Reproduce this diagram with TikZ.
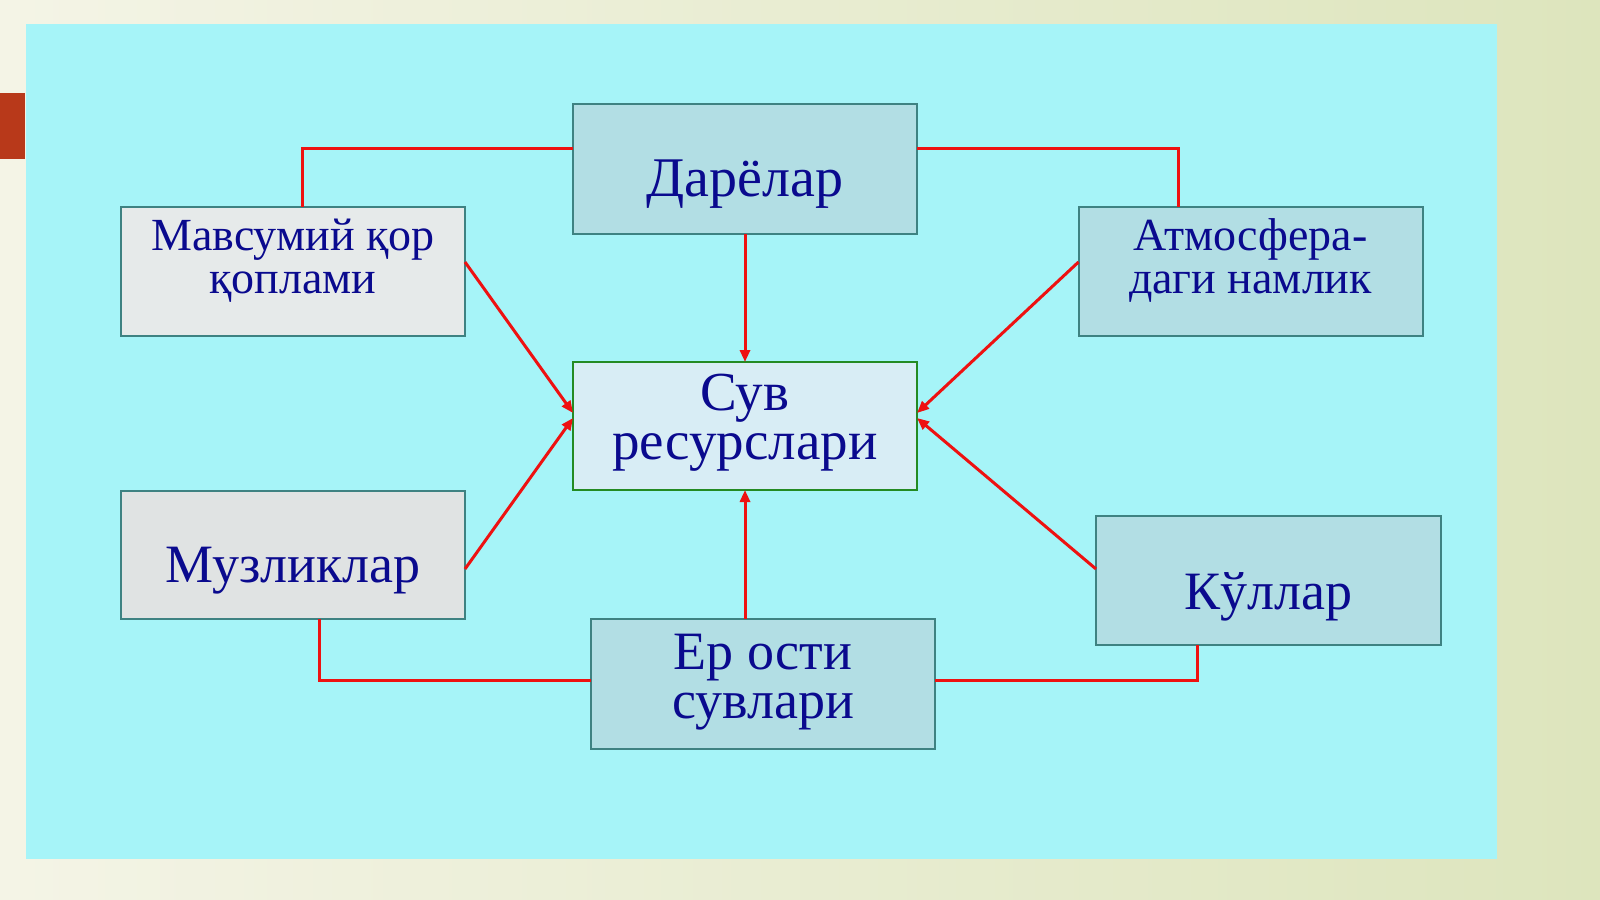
\documentclass[tikz,border=0pt]{standalone}
\usepackage{fontspec}
\setmainfont{Liberation Serif}
\usetikzlibrary{arrows.meta}
\definecolor{bgcyan}{HTML}{A6F4F8}
\definecolor{creamL}{HTML}{F4F4E6}
\definecolor{creamR}{HTML}{DDE5BD}
\definecolor{redblock}{HTML}{B8391A}
\definecolor{boxline}{HTML}{3E8282}
\definecolor{suvline}{HTML}{238B23}
\definecolor{waterfill}{HTML}{B2DEE4}
\definecolor{snowfill}{HTML}{E6EAEA}
\definecolor{icefill}{HTML}{E0E3E3}
\definecolor{suvfill}{HTML}{D8EDF5}
\definecolor{navy}{HTML}{0A0A8E}
\definecolor{linkred}{HTML}{EE1111}
\tikzset{
  box/.style={draw=boxline, line width=2pt, inner sep=0pt, outer sep=0pt,
    minimum width=344pt, minimum height=129pt},
  txt/.style={text=navy, align=center, inner sep=0pt, anchor=base},
  link/.style={draw=linkred, line width=3pt},
  arr/.style={draw=linkred, line width=3pt, -{Triangle[length=12pt,width=10pt]}},
}
\begin{document}
\begin{tikzpicture}[x=1pt,y=-1pt]
\useasboundingbox (0,0) rectangle (1600,899);
\shade[left color=creamL, right color=creamR] (0,0) rectangle (1600,899);
\fill[redblock] (0,93) rectangle (25,159);
\fill[bgcyan] (26,24) rectangle (1497,859);

\node[box, fill=waterfill, minimum height=130pt] (dar) at (745,169) {};
\node[txt, font=\fontsize{56}{50}\selectfont] at (745,196) {Дарёлар};

\node[box, fill=snowfill] (mav) at (293,271) {};
\node[txt, font=\fontsize{46}{43}\selectfont] at (293,293) {Мавсумий қор\\қоплами};

\node[box, fill=waterfill] (atm) at (1250.5,271) {};
\node[txt, font=\fontsize{46}{43}\selectfont] at (1250.5,293) {Атмосфера-\\даги намлик};

\node[box, draw=suvline, fill=suvfill, minimum height=128pt] (suv) at (745,426) {};
\node[txt, font=\fontsize{55}{49}\selectfont] at (745,459) {Сув\\ресурслари};

\node[box, fill=icefill, minimum height=128pt] (muz) at (293,555) {};
\node[txt, font=\fontsize{54}{49}\selectfont] at (293,582) {Музликлар};

\node[box, fill=waterfill, minimum width=345pt] (kul) at (1268.5,580.5) {};
\node[txt, font=\fontsize{54}{49}\selectfont] at (1268.5,609) {Кўллар};

\node[box, fill=waterfill, minimum height=130pt] (ero) at (763,684) {};
\node[txt, font=\fontsize{54}{49}\selectfont] at (763,718) {Ер ости\\сувлари};

\coordinate (tl) at (302,148);
\coordinate (tr) at (1178.6,148);
\coordinate (bl) at (319.4,680.6);
\coordinate (br) at (1197,680.6);

\draw[link] (dar.west |- tl) -- (tl) -- (tl |- mav.north);
\draw[link] (dar.east |- tr) -- (tr) -- (tr |- atm.north);
\draw[link] (ero.west |- bl) -- (bl) -- (bl |- muz.south);
\draw[link] (ero.east |- br) -- (br) -- (br |- kul.south);

\draw[arr] (suv.north |- dar.south) -- (suv.north);
\draw[arr] (suv.south |- ero.north) -- (suv.south);
\draw[arr] ([yshift=9pt]mav.east) -- ([yshift=13pt]suv.west);
\draw[arr] ([yshift=-14pt]muz.east) -- ([yshift=8pt]suv.west);
\draw[arr] ([yshift=9pt]atm.west) -- ([yshift=13pt]suv.east);
\draw[arr] ([yshift=11.5pt]kul.west) -- ([yshift=8pt]suv.east);
\end{tikzpicture}
\end{document}
